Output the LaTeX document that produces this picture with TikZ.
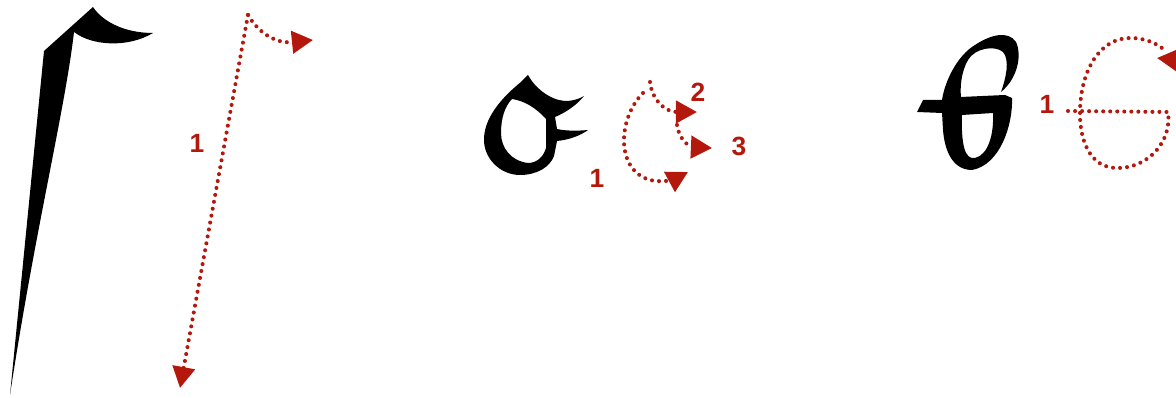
\documentclass[tikz,border=0pt]{standalone}
\usepackage{fontspec}
\setmainfont{Liberation Sans}
\usetikzlibrary{arrows.meta}
\definecolor{strokered}{RGB}{180,24,12}
\begin{document}
\begin{tikzpicture}[x=0.01cm, y=-0.01cm,
  guide/.style={strokered, line width=1.15pt, dash pattern=on 0pt off 2pt, line cap=round,
    -{Triangle[length=6pt, width=6.3pt]}},
  guideplain/.style={strokered, line width=1.15pt, dash pattern=on 0pt off 2pt, line cap=round},
  order/.style={strokered, font=\fontsize{7.5}{8}\selectfont\bfseries, inner sep=0pt},
  glyph/.style={fill=black, even odd rule}]

  \useasboundingbox (0,0) rectangle (1176,398);
  \clip (0,0) rectangle (1176,398);

  % -- Long stroke with hook --
  \fill[glyph] (10,395) -- (44,51) -- (93,7) .. controls (103,22) and (125,33) .. (153,33)
    .. controls (128,48) and (92,46) .. (74,32) .. controls (65,110) and (35,230) .. (10,395) -- cycle;

  \coordinate (lTop) at (248,15);
  \coordinate (lEnd) at (180,388);
  \coordinate (lHook) at (313,40);
  \draw[guide] (lTop) -- (lEnd);
  \draw[guide] (lTop) .. controls (258,32) and (275,44) .. (lHook);
  \node[order] (lOne) at (197,143) {1};

  % -- Letter with two arms --
  \fill[glyph] (528,75) .. controls (535,88) and (550,100) .. (565,101)
    .. controls (573,101) and (579,99) .. (584,96)
    .. controls (577,105) and (565,113) .. (555,117) -- (557,129)
    .. controls (565,131) and (578,131) .. (588,130)
    .. controls (580,136) and (568,140) .. (557,141) -- (554,156)
    .. controls (550,167) and (537,175) .. (520,175)
    .. controls (500,175) and (483,158) .. (484,138)
    .. controls (485,115) and (505,95) .. (521,82) -- cycle
    (512,99) .. controls (525,101) and (536,108) .. (546,119) -- (546,148)
    .. controls (543,158) and (536,163) .. (528,163)
    .. controls (511,161) and (501,148) .. (501,133)
    .. controls (501,118) and (505,106) .. (512,99) -- cycle;

  \coordinate (mOneStart) at (643,93);
  \coordinate (mOneEnd) at (688,172);
  \coordinate (mTwoStart) at (650,82);
  \coordinate (mTwoEnd) at (697,112);
  \coordinate (mThreeStart) at (677,125);
  \coordinate (mThreeEnd) at (712,148);
  \draw[guide] (mOneStart) .. controls (618,118) and (615,170) .. (650,180)
    .. controls (662,183) and (675,179) .. (mOneEnd);
  \draw[guide] (mTwoStart) .. controls (652,100) and (665,112) .. (mTwoEnd);
  \draw[guide] (mThreeStart) .. controls (679,140) and (690,147) .. (mThreeEnd);
  \node[order] (mOne) at (597,178) {1};
  \node[order] (mTwo) at (698,92) {2};
  \node[order] (mThree) at (739,146) {3};

  % -- Looped letter with crossbar --
  \fill[glyph] (917,112) -- (923,100) -- (942,100)
    .. controls (945,80) and (958,55) .. (975,45)
    .. controls (990,35) and (1008,30) .. (1016,42)
    .. controls (1022,55) and (1018,78) .. (1001,92)
    .. controls (1006,78) and (1010,60) .. (1003,52)
    .. controls (995,45) and (975,48) .. (968,60)
    .. controls (961,72) and (960,88) .. (961,97) -- (1005,95) -- (1012,98)
    .. controls (1013,125) and (1000,165) .. (972,170)
    .. controls (955,170) and (945,155) .. (943,130) -- (942,113) -- cycle
    (962,115) -- (993,113) .. controls (994,135) and (988,155) .. (975,158)
    .. controls (965,160) and (961,145) .. (962,115) -- cycle;

  \coordinate (rStart) at (1068,111);
  \coordinate (rTurn) at (1168,112);
  \coordinate (rArrow) at (1157,58);
  \coordinate (rOff) at (1195,62);
  \draw[guideplain] (rStart) -- (rTurn) .. controls (1172,140) and (1150,168) .. (1117,168)
    .. controls (1090,168) and (1079,140) .. (1080,110)
    .. controls (1081,70) and (1100,38) .. (1130,38)
    .. controls (1145,38) and (1155,43) .. (1162,48);
  \draw[guide] (rOff) -- (rArrow);
  \node[order] (rOne) at (1047,104) {1};

\end{tikzpicture}
\end{document}
